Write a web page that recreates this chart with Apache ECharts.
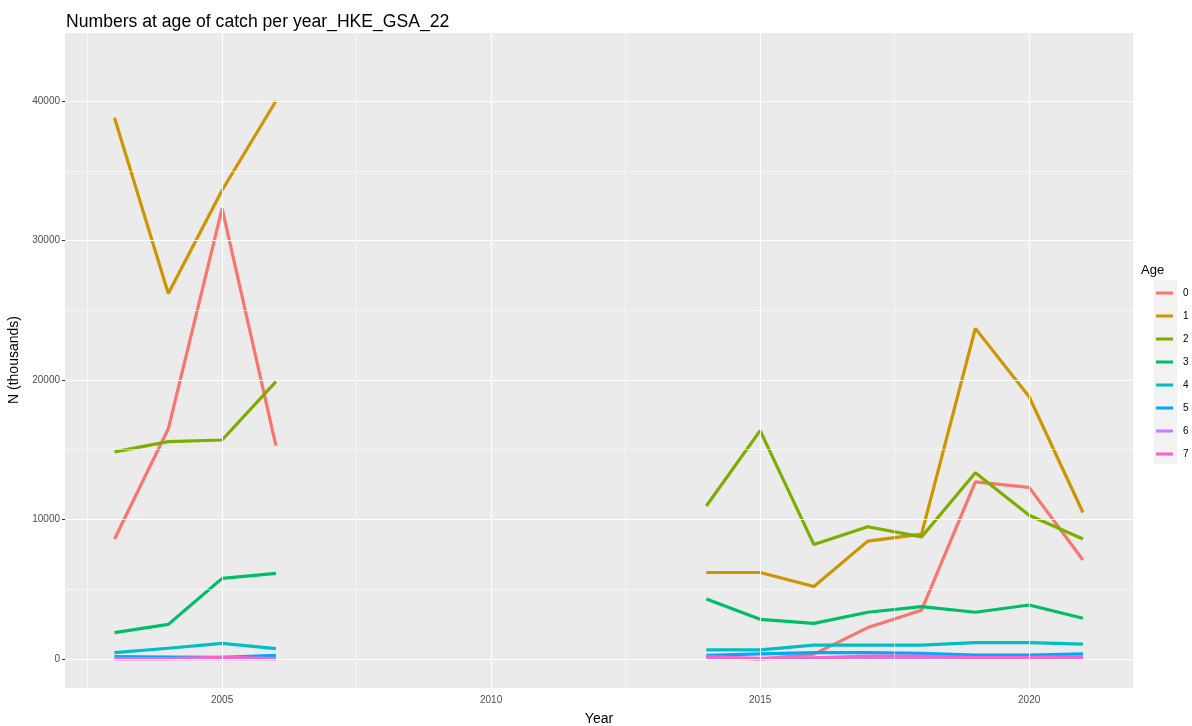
<!DOCTYPE html>
<html>
<head>
<meta charset="utf-8">
<script src="https://cdn.jsdelivr.net/npm/echarts@6/dist/echarts.min.js"></script>
<style>
html,body{margin:0;padding:0;background:#fff;}
#chart{width:1192px;height:726px;}
</style>
</head>
<body>
<div id="chart"></div>
<script>
// ---- data ----
const years = [2003, 2004, 2005, 2006, 2007, 2008, 2009, 2010, 2011, 2012, 2013, 2014, 2015, 2016, 2017, 2018, 2019, 2020, 2021];
const ages = ['0', '1', '2', '3', '4', '5', '6', '7'];
const age0 = [8600, 16500, 32300, 15300, null, null, null, null, null, null, null, 100, 0, 350, 2250, 3500, 12700, 12300, 7100];
const age1 = [38800, 26200, 33600, 40000, null, null, null, null, null, null, null, 6200, 6200, 5200, 8450, 8950, 23700, 18800, 10500];
const age2 = [14850, 15580, 15700, 19880, null, null, null, null, null, null, null, 10970, 16370, 8200, 9480, 8750, 13350, 10300, 8600];
const age3 = [1890, 2480, 5780, 6140, null, null, null, null, null, null, null, 4300, 2840, 2550, 3350, 3750, 3350, 3870, 2920];
const age4 = [450, 770, 1120, 740, null, null, null, null, null, null, null, 650, 650, 1000, 1000, 1000, 1170, 1170, 1070];
const age5 = [170, 140, 110, 260, null, null, null, null, null, null, null, 260, 360, 450, 450, 400, 270, 270, 370];
const age6 = [30, 30, 40, 30, null, null, null, null, null, null, null, 50, 40, 60, 80, 80, 60, 60, 80];
const age7 = [30, 30, 120, 30, null, null, null, null, null, null, null, 170, 20, 80, 200, 200, 100, 120, 150];
const ageValues = [age0, age1, age2, age3, age4, age5, age6, age7];
const xTickLabels = [2005, 2010, 2015, 2020];
const xMinorTicks = [2002.5, 2007.5, 2012.5, 2017.5];
const yTickLabels = [0, 10000, 20000, 30000, 40000];
const yMinorTicks = [-5000, 5000, 15000, 25000, 35000];

const colors = ['#F8766D', '#CD9600', '#7CAE00', '#00BE67', '#00BFC4', '#00A9FF', '#C77CFF', '#FF61CC'];
const FONT = '"Liberation Sans", Arial, sans-serif';

const chart = echarts.init(document.getElementById('chart'), null, {renderer: 'canvas'});

const gridLineSeries = {
  type: 'line',
  data: [],
  z: 1,
  silent: true,
  markLine: {
    silent: true,
    symbol: ['none', 'none'],
    label: {show: false},
    animation: false,
    data: [].concat(
      xTickLabels.map(v => ({xAxis: v, lineStyle: {color: '#FFFFFF', width: 1.1, type: 'solid'}})),
      xMinorTicks.map(v => ({xAxis: v, lineStyle: {color: '#FFFFFF', width: 0.55, type: 'solid'}})),
      yTickLabels.map(v => ({yAxis: v, lineStyle: {color: '#FFFFFF', width: 1.1, type: 'solid'}})),
      yMinorTicks.map(v => ({yAxis: v, lineStyle: {color: '#FFFFFF', width: 0.55, type: 'solid'}}))
    )
  }
};

const dataSeries = ages.map((a, i) => ({
  name: a,
  type: 'line',
  z: 3,
  data: years.map((y, j) => [y, ageValues[i][j]]),
  showSymbol: false,
  symbol: 'none',
  connectNulls: false,
  lineStyle: {color: colors[i], width: 3.2},
  itemStyle: {color: colors[i]},
  emphasis: {disabled: true},
  animation: false
}));

chart.setOption({
  animation: false,
  textStyle: {fontFamily: FONT},
  title: [
    {text: 'Numbers at age of catch per year_HKE_GSA_22', left: 61, top: 8,
     textStyle: {fontSize: 17.6, fontWeight: 'normal', color: '#000', fontFamily: FONT}},
    {text: 'Age', left: 1136, top: 259,
     textStyle: {fontSize: 13, fontWeight: 'normal', color: '#000', fontFamily: FONT}}
  ],
  grid: {left: 65, right: 59, top: 33, bottom: 38, containLabel: false,
         show: true, backgroundColor: '#EBEBEB', borderWidth: 0},
  xAxis: {
    type: 'value', min: 2002.08, max: 2021.93,
    axisLine: {show: false},
    splitLine: {show: false},
    axisTick: {show: true, length: 3, lineStyle: {color: '#333333', width: 1}, customValues: xTickLabels},
    axisLabel: {show: true, customValues: xTickLabels, color: '#4D4D4D', fontSize: 10, margin: 7, fontFamily: FONT,
                formatter: v => String(v)}
  },
  yAxis: {
    type: 'value', min: -2080, max: 44875,
    axisLine: {show: false},
    splitLine: {show: false},
    axisTick: {show: true, length: 3, lineStyle: {color: '#333333', width: 1}, customValues: yTickLabels},
    axisLabel: {show: true, customValues: yTickLabels, color: '#4D4D4D', fontSize: 10, margin: 5, fontFamily: FONT,
                formatter: v => String(v)}
  },
  legend: {
    orient: 'vertical', left: 1156, top: 287, padding: 0,
    data: ages,
    icon: 'rect', itemWidth: 17, itemHeight: 3, itemGap: 11,
    textStyle: {fontSize: 10, color: '#000', fontFamily: FONT, lineHeight: 12, padding: [0, 0, 0, 5]},
    selectedMode: false
  },
  graphic: [
    {type: 'rect', left: 1154, top: 280, z: -1, shape: {width: 23, height: 184}, style: {fill: '#F2F2F2'}},
    {type: 'text', x: 599, y: 719, style: {text: 'Year', fontSize: 14, fill: '#000', fontFamily: FONT, align: 'center', verticalAlign: 'middle'}},
    {type: 'text', x: 14, y: 360, rotation: Math.PI / 2, style: {text: 'N (thousands)', fontSize: 14, fill: '#000', fontFamily: FONT, align: 'center', verticalAlign: 'middle'}}
  ],
  series: [gridLineSeries].concat(dataSeries)
});
</script>
</body>
</html>
